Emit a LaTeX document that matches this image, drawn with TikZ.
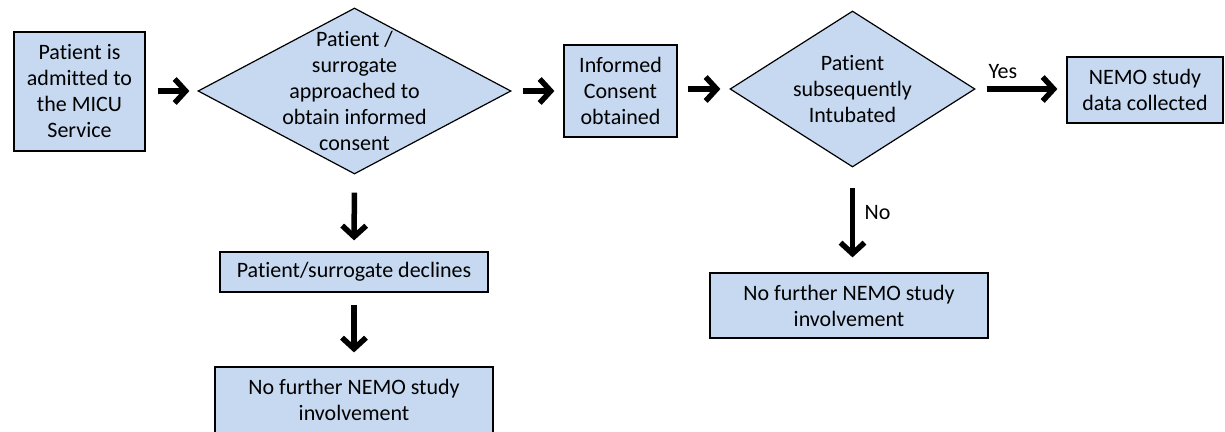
\documentclass[tikz,border=0pt]{standalone}
\usepackage{fontspec}
\setmainfont[Ligatures=NoCommon]{Carlito}
\usetikzlibrary{arrows.meta,positioning,shapes.geometric}
\definecolor{boxblue}{RGB}{198,217,241}
\begin{document}
\begin{tikzpicture}[x=1pt,y=-1pt,
every node/.style={font=\fontsize{22}{26}\selectfont},
box/.style={rectangle,draw,line width=1.2pt,fill=boxblue,align=center,inner sep=0pt},
decision/.style={diamond,draw,line width=1.2pt,fill=boxblue,inner sep=0pt},
flow/.style={line width=5.5pt,-{Straight Barb[length=11pt,width=24pt]}}]
\useasboundingbox (0,0) rectangle (1225,431);
\node[box,minimum width=131pt,minimum height=119pt] (adm) at (79.5,91.5) {Patient is\\admitted to\\the MICU\\Service};
\node[decision,minimum width=313pt,minimum height=166pt,
  label={[align=center]center:Patient /\\surrogate\\approached to\\obtain informed\\consent}] (appr) at (354.5,91) {};
\node[box,minimum width=113pt,minimum height=92pt] (cons) at (620.5,91) {Informed\\Consent\\obtained};
\node[decision,minimum width=245pt,minimum height=156pt,
  label={[align=center]center:Patient\\subsequently\\Intubated}] (intub) at (852.5,89) {};
\node[box,minimum width=156pt,minimum height=66pt] (data) at (1145,90) {NEMO study\\data collected};
\node[box,minimum width=268pt,minimum height=40pt] (decl) at (354,272) {Patient/surrogate declines};
\node[box,minimum width=278pt,minimum height=66pt] (stopA) at (354,400) {No further NEMO study\\involvement};
\node[box,minimum width=278pt,minimum height=65pt] (stopB) at (849,305.5) {No further NEMO study\\involvement};
\draw[flow,shorten <=12pt,shorten >=8pt] (adm.east |- appr.west) -- (appr.west);
\draw[flow,shorten <=11pt,shorten >=9pt] (appr.east) -- (appr.east -| cons.west);
\draw[flow,shorten <=10pt,shorten >=9pt] (cons.east |- intub.west) -- (intub.west);
\draw[flow,shorten <=11pt,shorten >=9pt] (intub.east) -- (intub.east -| data.west)
  node[pos=0.3,above=4pt] {Yes};
\draw[flow,shorten <=18pt,shorten >=11pt] (appr.south) -- (decl.north);
\draw[flow,shorten <=12pt,shorten >=14pt] (decl.south) -- (stopA.north);
\draw[flow,shorten <=20pt,shorten >=15pt] (intub.south) -- (intub.south |- stopB.north)
  node[pos=0.43,right=6pt] {No};
\end{tikzpicture}
\end{document}
